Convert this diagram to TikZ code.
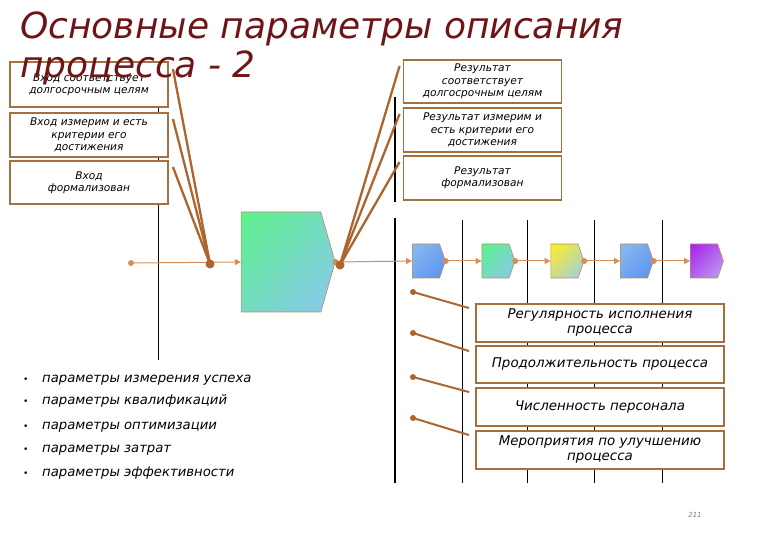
\documentclass[tikz,border=0pt]{standalone}
\usepackage{fontspec}
\setmainfont{DejaVu Sans}[ItalicFont={DejaVu Sans Oblique},BoldItalicFont={DejaVu Sans Bold Oblique}]
\usepackage{xcolor}
\usepackage{tikz}
\usetikzlibrary{calc,arrows.meta,positioning,shapes.symbols,shadings}

\definecolor{titlered}{HTML}{6E1518}
\definecolor{boxbrown}{HTML}{A3713F}
\definecolor{linkbrown}{HTML}{AD652F}
\definecolor{flowor}{HTML}{D68E57}
\definecolor{mintA}{HTML}{5CF28C}
\definecolor{mintB}{HTML}{8CC6F2}
\definecolor{skyA}{HTML}{8ABAF2}
\definecolor{skyB}{HTML}{5A90EE}
\definecolor{lemonA}{HTML}{FFF01E}
\definecolor{lemonB}{HTML}{9CCBF0}
\definecolor{plumA}{HTML}{A81EEE}
\definecolor{plumB}{HTML}{BCA6EE}

\begin{document}
\begin{tikzpicture}[
    x=1pt,
    y=-1pt,
    >={Triangle[length=6pt,width=6pt]},
    every node/.style={font=\itshape},
    txtbox/.style={draw=boxbrown, line width=1.9pt, fill=white,
        align=center, inner sep=0pt,
        font=\fontsize{10.6}{12.4}\selectfont\itshape},
    lbox/.style={txtbox, minimum width=158pt},
    pbox/.style={txtbox, minimum width=248pt, minimum height=38pt,
        font=\fontsize{13.4}{15}\selectfont\itshape},
    conn/.style={draw=linkbrown, line width=2.3pt},
    flow/.style={draw=flowor, line width=1pt},
    step4/.style 2 args={draw=boxbrown!80, line width=0.6pt,
        upper left=#1, lower right=#2,
        upper right=#1!50!#2, lower left=#1!50!#2},
    bigsig/.style={signal, signal to=east, signal pointer angle=148,
        minimum width=94pt, minimum height=100pt, inner sep=0pt},
    smallsig/.style={signal, signal to=east, signal pointer angle=142,
        minimum width=33pt, minimum height=34pt, inner sep=0pt},
    bullet/.style={anchor=base west, inner sep=0pt,
        font=\fontsize{13.2}{15}\selectfont\itshape}
]

\useasboundingbox (0,0) rectangle (780,540);

% Swimlane lines
\draw[black,line width=1pt] (158,62) -- (158,360);
\draw[black,line width=1.6pt] (395,97) -- (395,202);
\draw[black,line width=1.6pt] (395,218) -- (395,483);
\draw[black,line width=1pt] (462,220) -- (462,483);
\draw[black,line width=1pt] (527,220) -- (527,483);
\draw[black,line width=1pt] (594,220) -- (594,483);
\draw[black,line width=1pt] (662,220) -- (662,483);

% Input criteria
\node[lbox,minimum height=45pt] (lb1) at (89,84.5)
    {Вход соответствует\\долгосрочным целям};
\node[lbox,minimum height=44pt] (lb2) at (89,135)
    {Вход измерим и есть\\критерии его\\достижения};
\node[lbox,minimum height=43pt] (lb3) at (89,182.5)
    {Вход\\формализован};

% Result criteria
\node[lbox,minimum height=43pt] (rb1) at (482.5,81.5)
    {Результат\\соответствует\\долгосрочным целям};
\node[lbox,minimum height=44pt] (rb2) at (482.5,130)
    {Результат измерим и\\есть критерии его\\достижения};
\node[lbox,minimum height=44pt] (rb3) at (482.5,178)
    {Результат\\формализован};

% Main process
\coordinate (src) at (131,263);
\node[bigsig,step4={mintA}{mintB}] (proc) at (281,262) {};
\draw[flow,->] (src) -- (proc.west);
\fill[flowor] (src) circle (3);

% Process steps
\node[smallsig,step4={skyA}{skyB}] (s1) at (426,261) {};
\node[smallsig,step4={mintA}{mintB}] (s2) at (495.5,261) {};
\node[smallsig,step4={lemonA}{lemonB}] (s3) at (564.5,261) {};
\node[smallsig,step4={skyA}{skyB}] (s4) at (634,261) {};
\node[smallsig,step4={plumA}{plumB}] (s5) at (704,261) {};

\draw[flow,->] (proc.east) -- (s1.west);
\draw[flow,->] (s1.east) -- (s2.west);
\draw[flow,->] (s2.east) -- (s3.west);
\draw[flow,->] (s3.east) -- (s4.west);
\draw[flow,->] (s4.east) -- (s5.west);
\fill[flowor] (proc.east) circle (3);
\fill[flowor] (s1.east) circle (3);
\fill[flowor] (s2.east) circle (3);
\fill[flowor] (s3.east) circle (3);
\fill[flowor] (s4.east) circle (3);

% Criteria links
\coordinate (inJ) at (210,264);
\coordinate (outJ) at (340,265);
\draw[conn] ($(lb1.north east)+(4,8)$) -- (inJ);
\draw[conn] ($(lb2.north east)+(4,7)$) -- (inJ);
\draw[conn] ($(lb3.north east)+(4,7)$) -- (inJ);
\draw[conn] ($(rb1.north west)+(-3,7)$) -- (outJ);
\draw[conn] ($(rb2.north west)+(-3,7)$) -- (outJ);
\draw[conn] ($(rb3.north west)+(-3,7)$) -- (outJ);
\fill[linkbrown] (inJ) circle (4.5);
\fill[linkbrown] (outJ) circle (4.5);

% Process parameters
\node[pbox] (b1) at (600,323) {Регулярность исполнения\\процесса};
\node[pbox,minimum height=37pt] (b2) at (600,364.5) {Продолжительность процесса};
\node[pbox] (b3) at (600,407) {Численность персонала};
\node[pbox] (b4) at (600,450) {Мероприятия по улучшению\\процесса};

\coordinate (p1) at (413,292);
\coordinate (p2) at (413,333);
\coordinate (p3) at (413,377);
\coordinate (p4) at (413,418);
\draw[conn,line width=2pt] (p1) -- ($(b1.north west)+(-6,5)$);
\draw[conn,line width=2pt] (p2) -- ($(b2.north west)+(-6,6)$);
\draw[conn,line width=2pt] (p3) -- ($(b3.north west)+(-6,5)$);
\draw[conn,line width=2pt] (p4) -- ($(b4.north west)+(-6,5)$);
\fill[linkbrown] (p1) circle (3);
\fill[linkbrown] (p2) circle (3);
\fill[linkbrown] (p3) circle (3);
\fill[linkbrown] (p4) circle (3);

% Parameter groups
\node[bullet] (bl1) at (23,382) {\makebox[19pt][l]{\upshape\small\textbullet}параметры измерения успеха};
\node[bullet] (bl2) at (23,405) {\makebox[19pt][l]{\upshape\small\textbullet}параметры квалификаций};
\node[bullet] (bl3) at (23,429) {\makebox[19pt][l]{\upshape\small\textbullet}параметры оптимизации};
\node[bullet] (bl4) at (23,452) {\makebox[19pt][l]{\upshape\small\textbullet}параметры затрат};
\node[bullet] (bl5) at (23,476) {\makebox[19pt][l]{\upshape\small\textbullet}параметры эффективности};

% Title
\node[anchor=base west, inner sep=0pt, text=titlered,
    font=\fontsize{36}{38}\selectfont\itshape] (title1) at (20,39)
    {Основные параметры описания};
\node[anchor=base west, inner sep=0pt, text=titlered,
    font=\fontsize{36}{38}\selectfont\itshape] (title2) at (20,78)
    {процесса - 2};

\node[text=gray, font=\fontsize{7}{8}\selectfont\itshape] (pnum) at (695,515) {211};

\end{tikzpicture}
\end{document}
